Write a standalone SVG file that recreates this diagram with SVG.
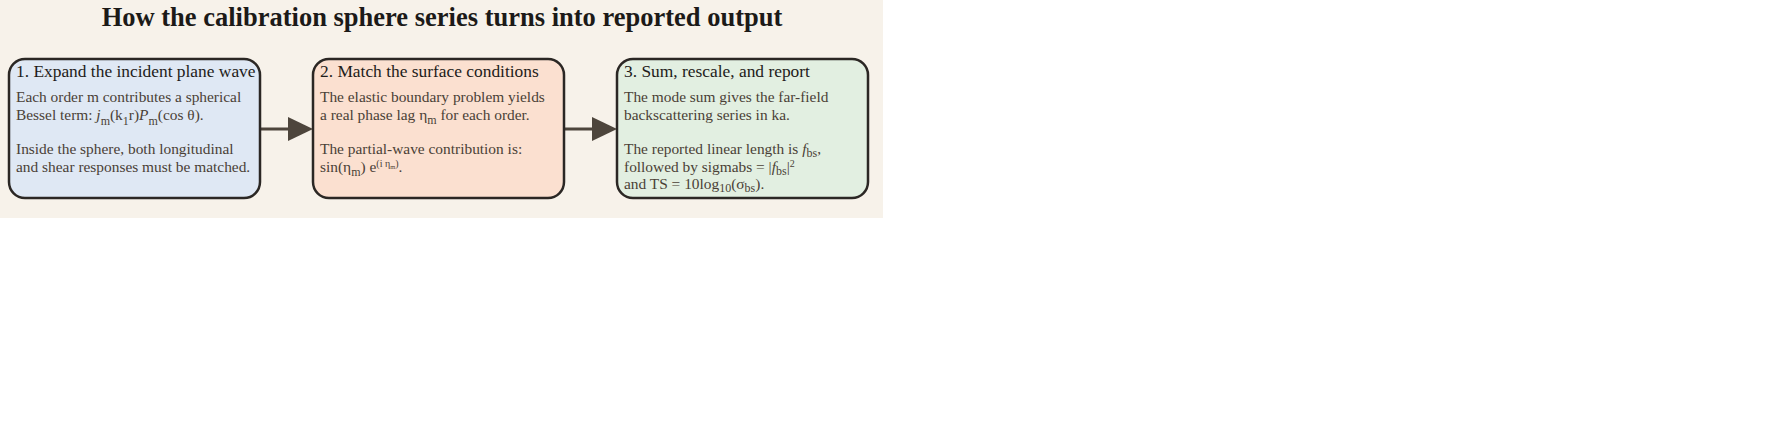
<svg xmlns="http://www.w3.org/2000/svg" width="1765" height="437" viewBox="0 0 1765 437">
<style>
.title{font-family:"Liberation Serif","DejaVu Serif",serif;font-weight:bold;font-size:26.5px;fill:#1c1a18;text-anchor:middle}
.head{font-family:"Liberation Serif","DejaVu Serif",serif;font-size:17.4px;fill:#1e1c1a}
.body{font-family:"Liberation Serif","DejaVu Serif",serif;font-size:15.4px;fill:#4a3f36}
.box{stroke:#2b2724;stroke-width:2.5}
.sub{font-size:12px}
.sup{font-size:10px}
.arrow{stroke:#4d453c;stroke-width:3;fill:none}
.head-tri{fill:#4d453c}
</style>
<rect x="0" y="0" width="1765" height="437" fill="#ffffff"/>
<rect x="0" y="0" width="883" height="218" fill="#f7f2ea"/>
<text class="title" x="442" y="26">How the calibration sphere series turns into reported output</text>
<g id="connectors">
<line class="arrow" x1="260" y1="129" x2="290" y2="129"/>
<polygon class="head-tri" points="288,117 313,129 288,141"/>
<line class="arrow" x1="564" y1="129" x2="594" y2="129"/>
<polygon class="head-tri" points="592,117 617,129 592,141"/>
</g>
<g id="node1">
<rect class="box" x="9" y="59" width="251" height="139" rx="16" fill="#dfe8f4"/>
<text class="head" x="16" y="77">1. Expand the incident plane wave</text>
<text class="body" x="16" y="102">Each order m contributes a spherical</text>
<text class="body" x="16" y="119.5">Bessel term: <tspan font-style="italic">j</tspan><tspan class="sub" dy="5">m</tspan><tspan dy="-5">(k</tspan><tspan class="sub" dy="5">1</tspan><tspan dy="-5">r)</tspan><tspan font-style="italic">P</tspan><tspan class="sub" dy="5">m</tspan><tspan dy="-5">(cos θ).</tspan></text>
<text class="body" x="16" y="154">Inside the sphere, both longitudinal</text>
<text class="body" x="16" y="171.5">and shear responses must be matched.</text>
</g>
<g id="node2">
<rect class="box" x="313" y="59" width="251" height="139" rx="16" fill="#fbe0d0"/>
<text class="head" x="320" y="77">2. Match the surface conditions</text>
<text class="body" x="320" y="102">The elastic boundary problem yields</text>
<text class="body" x="320" y="119.5">a real phase lag η<tspan class="sub" dy="4">m</tspan><tspan dy="-4"> for each order.</tspan></text>
<text class="body" x="320" y="154">The partial-wave contribution is:</text>
<text class="body" x="320" y="171.5">sin(η<tspan class="sub" dy="4">m</tspan><tspan dy="-4">) e</tspan><tspan class="sup" dy="-5">(i η</tspan><tspan font-size="6.5" dy="2">m</tspan><tspan class="sup" dy="-2">)</tspan><tspan dy="5">.</tspan></text>
</g>
<g id="node3">
<rect class="box" x="617" y="59" width="251" height="139" rx="16" fill="#e2efe1"/>
<text class="head" x="624" y="77">3. Sum, rescale, and report</text>
<text class="body" x="624" y="102">The mode sum gives the far-field</text>
<text class="body" x="624" y="119.5">backscattering series in ka.</text>
<text class="body" x="624" y="154">The reported linear length is <tspan font-style="italic">f</tspan><tspan class="sub" dy="3">bs</tspan><tspan dy="-3">,</tspan></text>
<text class="body" x="624" y="171.5">followed by sigmabs = |<tspan font-style="italic">f</tspan><tspan class="sub" dy="3">bs</tspan><tspan dy="-3">|</tspan><tspan class="sup" dy="-5">2</tspan></text>
<text class="body" x="624" y="189">and TS = 10log<tspan class="sub" dy="3">10</tspan><tspan dy="-3">(σ</tspan><tspan class="sub" dy="3">bs</tspan><tspan dy="-3">).</tspan></text>
</g>
</svg>
